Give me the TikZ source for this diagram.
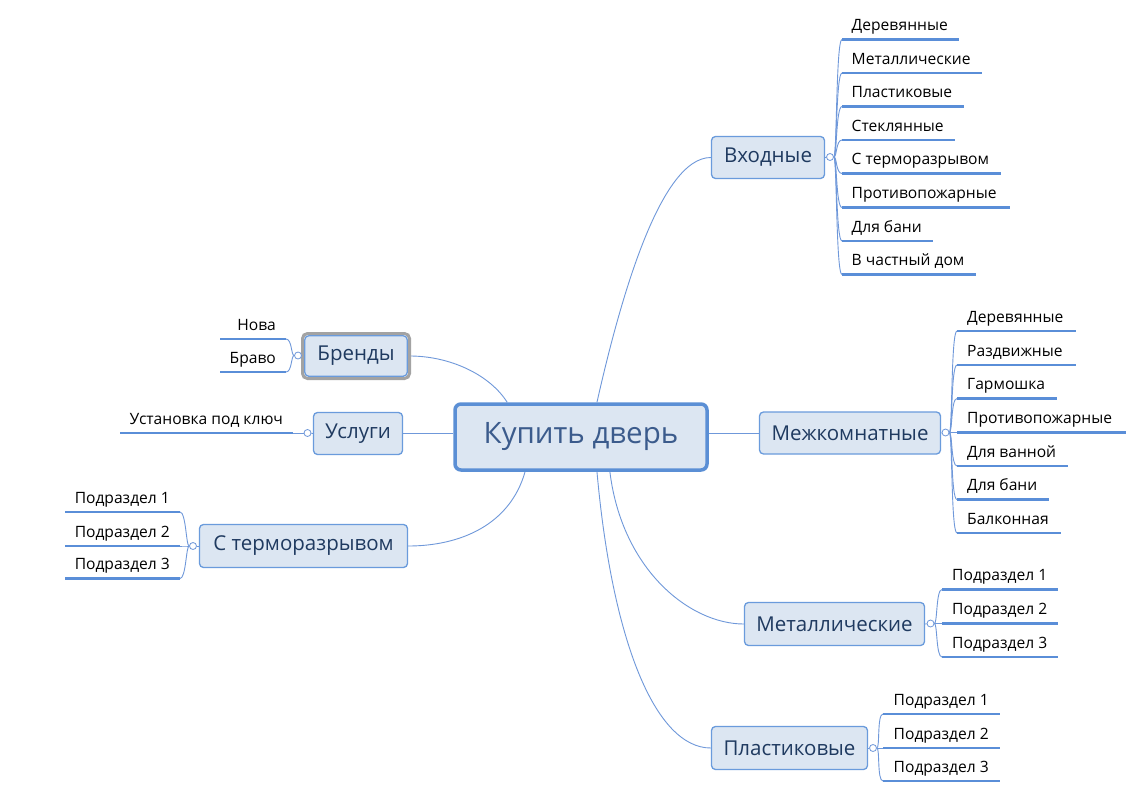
\documentclass[tikz,border=0pt]{standalone}
\usepackage{fontspec}
\setmainfont{Open Sans}
\usetikzlibrary{calc}
\pgfdeclarelayer{bg}
\pgfsetlayers{bg,main}
\definecolor{conncol}{HTML}{6F98DA}
\definecolor{ulinecol}{HTML}{5A8ED8}
\definecolor{boxfill}{HTML}{DCE6F2}
\definecolor{boxdraw}{HTML}{6A9BDC}
\definecolor{centdraw}{HTML}{5B8FD5}
\definecolor{toptext}{HTML}{1F3A60}
\definecolor{centtext}{HTML}{3B5B8C}
\definecolor{grayb}{HTML}{A3A3A3}
\tikzset{
  topic/.style={draw=boxdraw, line width=1.3pt, fill=boxfill, rounded corners=4pt,
    minimum height=42pt, inner sep=0pt, text=toptext, font=\fontsize{20.5}{24}\selectfont},
  central/.style={draw=centdraw, line width=3.5pt, fill=boxfill, rounded corners=6pt,
    inner sep=0pt, text=centtext, font=\fontsize{29.5}{34}\selectfont},
  frame/.style={draw=grayb, line width=3pt, rounded corners=5pt, inner sep=0pt},
  conn/.style={draw=conncol, line width=0.9pt},
  uline/.style={draw=ulinecol, line width=2.4pt},
  leaf/.style={font=\fontsize{15.6}{18}\selectfont, inner sep=0pt, text=black},
  knob/.style={circle, draw=conncol, fill=white, line width=0.8pt, minimum size=7pt, inner sep=0pt},
}
\begin{document}
\begin{tikzpicture}[x=1pt,y=-1pt]
\begin{pgfonlayer}{bg}
\fill[white] (0,0) rectangle (1140,806);
\end{pgfonlayer}
\useasboundingbox (0,0) rectangle (1140,806);

% main topics
\node[central, minimum width=252, minimum height=66] (cen) at (581,437) {Купить дверь};
\node[topic, minimum width=113] (vh) at (768,157.5) {Входные};
\node[topic, minimum width=181] (mk) at (850,433) {Межкомнатные};
\node[topic, minimum width=180, minimum height=43] (mt) at (834.5,624) {Металлические};
\node[topic, minimum width=156, minimum height=43] (pl) at (789.5,748) {Пластиковые};
\node[frame, minimum width=107, minimum height=45] (brf) at (356,356) {};
\node[topic, minimum width=102.5, minimum height=40.5] (br) at (356,356) {Бренды};
\node[topic, minimum width=89] (us) at (358,433.5) {Услуги};
\node[topic, minimum width=208, minimum height=43] (ct) at (303.5,546) {С терморазрывом};

% knobs
\node[knob] (kvh) at (830,157) {};
\node[knob] (kmk) at (945.5,432.5) {};
\node[knob] (kmt) at (930.5,623.5) {};
\node[knob] (kpl) at (873,748) {};
\node[knob] (kbr) at (298,355.5) {};
\node[knob] (kus) at (307.5,433) {};
\node[knob] (kct) at (193,546) {};

% central connectors
\coordinate (cn1) at ($(cen.north west)!0.5625!(cen.north east)$);
\coordinate (cn2) at ($(cen.north west)!0.211!(cen.north east)$);
\coordinate (cs1) at ($(cen.south west)!0.613!(cen.south east)$);
\coordinate (cs2) at ($(cen.south west)!0.5625!(cen.south east)$);
\coordinate (cs3) at ($(cen.south west)!0.281!(cen.south east)$);
\begin{pgfonlayer}{bg}
\draw[conn] (cn1) .. controls (620,300) and (660,157.5) .. (vh.west);
\draw[conn] (cen.east |- mk.west) -- (mk.west);
\draw[conn] (cs1) .. controls (622,570) and (690,624) .. (mt.west);
\draw[conn] (cs2) .. controls (612,640) and (655,748) .. (pl.west);
\draw[conn] (cn2) .. controls (490,375) and (450,355.5) .. (br.east);
\draw[conn] (cen.west |- us.east) -- (us.east);
\draw[conn] (cs3) .. controls (510,525) and (460,546) .. (ct.east);
\draw[conn] (vh.east) -- (kvh);
\draw[conn] (mk.east) -- (kmk);
\draw[conn] (mt.east) -- (kmt);
\draw[conn] (pl.east) -- (kpl);
\draw[conn] (brf.west) -- (kbr);
\draw[conn] (us.west) -- (kus);
\draw[conn] (ct.west) -- (kct);
\end{pgfonlayer}

% Входные leaves
\foreach \y/\e/\t [count=\i] in {39.5/959/Деревянные, 73/982/Металлические, 106.5/964/Пластиковые, 140/955/Стеклянные, 173.5/1001/С терморазрывом, 207.5/1010/Противопожарные, 241/933/Для бани, 274.5/976/В частный дом}{
  \coordinate (vhs\i) at (842,\y);
  \coordinate (vhe\i) at (\e,\y);
  \draw[uline] (vhs\i) -- (vhe\i);
  \node[leaf, anchor=base west] (vhl\i) at (851.5,\y-9) {\t};
  \begin{pgfonlayer}{bg}\draw[conn] (kvh.east) .. controls +(3,0) and +(-6,0) .. (vhs\i);\end{pgfonlayer}
}

% Межкомнатные leaves
\foreach \y/\e/\t [count=\i] in {331/1076/Деревянные, 365/1076/Раздвижные, 398.5/1057/Гармошка, 432.5/1126/Противопожарные, 466/1068/Для ванной, 499.5/1049/Для бани, 533/1061/Балконная}{
  \coordinate (mks\i) at (957,\y);
  \coordinate (mke\i) at (\e,\y);
  \draw[uline] (mks\i) -- (mke\i);
  \node[leaf, anchor=base west] (mkl\i) at (967,\y-9) {\t};
  \begin{pgfonlayer}{bg}\draw[conn] (kmk.east) .. controls +(3,0) and +(-6,0) .. (mks\i);\end{pgfonlayer}
}

% Металлические leaves
\foreach \y/\t [count=\i] in {589.5/Подраздел 1, 623.5/Подраздел 2, 657/Подраздел 3}{
  \coordinate (mts\i) at (942,\y);
  \coordinate (mte\i) at (1058,\y);
  \draw[uline] (mts\i) -- (mte\i);
  \node[leaf, anchor=base west] (mtl\i) at (952,\y-9) {\t};
  \begin{pgfonlayer}{bg}\draw[conn] (kmt.east) .. controls +(3,0) and +(-6,0) .. (mts\i);\end{pgfonlayer}
}

% Пластиковые leaves
\foreach \y/\t [count=\i] in {714/Подраздел 1, 748/Подраздел 2, 781/Подраздел 3}{
  \coordinate (pls\i) at (883,\y);
  \coordinate (ple\i) at (1000,\y);
  \draw[uline] (pls\i) -- (ple\i);
  \node[leaf, anchor=base west] (pll\i) at (893.5,\y-9) {\t};
  \begin{pgfonlayer}{bg}\draw[conn] (kpl.east) .. controls +(3,0) and +(-6,0) .. (pls\i);\end{pgfonlayer}
}

% Бренды leaves
\foreach \y/\t [count=\i] in {339/Нова, 372/Браво}{
  \coordinate (brs\i) at (220,\y);
  \coordinate (bre\i) at (286,\y);
  \draw[uline] (brs\i) -- (bre\i);
  \node[leaf, anchor=base east] (brl\i) at (276,\y-9) {\t};
  \begin{pgfonlayer}{bg}\draw[conn] (kbr.west) .. controls +(-3,0) and +(6,0) .. (bre\i);\end{pgfonlayer}
}

% Услуги leaf
\coordinate (uss1) at (120,433);
\coordinate (use1) at (293,433);
\draw[uline] (uss1) -- (use1);
\node[leaf, anchor=base east] (usl1) at (283,424) {Установка под ключ};
\begin{pgfonlayer}{bg}\draw[conn] (kus.west) -- (use1);\end{pgfonlayer}

% С терморазрывом leaves
\foreach \y/\t [count=\i] in {512/Подраздел 1, 546/Подраздел 2, 578.5/Подраздел 3}{
  \coordinate (cts\i) at (65,\y);
  \coordinate (cte\i) at (180,\y);
  \draw[uline] (cts\i) -- (cte\i);
  \node[leaf, anchor=base east] (ctl\i) at (170,\y-9) {\t};
  \begin{pgfonlayer}{bg}\draw[conn] (kct.west) .. controls +(-3,0) and +(6,0) .. (cte\i);\end{pgfonlayer}
}
\end{tikzpicture}
\end{document}
